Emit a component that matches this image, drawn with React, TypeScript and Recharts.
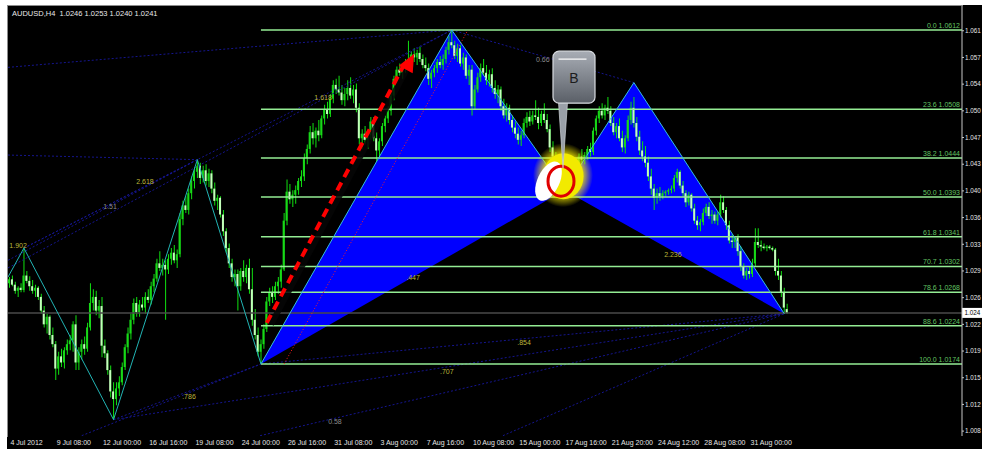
import React from "react";
import {
  ComposedChart,
  Bar,
  Cell,
  Line,
  Area,
  XAxis,
  YAxis,
  ReferenceLine,
  ReferenceDot,
} from "recharts";

// AUDUSD H4 candles, [open, high, low, close] in pips above 1.0000
const ohlc = [
  [280, 288, 274, 285], [285, 290, 276, 278], [278, 282, 266, 270], [270, 276, 262, 274], [274, 280, 268, 271],
  [271, 326, 268, 290], [290, 296, 280, 283], [283, 289, 270, 276], [276, 284, 266, 270], [270, 278, 262, 274],
  [274, 276, 258, 262], [262, 266, 240, 244], [244, 250, 222, 226], [226, 240, 214, 236], [236, 238, 206, 212],
  [212, 222, 196, 200], [200, 204, 153, 168], [168, 190, 160, 184], [184, 194, 170, 176], [176, 196, 168, 192],
  [192, 206, 186, 200], [200, 212, 192, 205], [205, 230, 190, 226], [226, 238, 166, 176], [176, 196, 166, 190],
  [190, 206, 180, 200], [200, 210, 186, 194], [194, 228, 190, 222], [222, 280, 218, 254], [254, 272, 244, 262],
  [262, 270, 238, 244], [244, 258, 234, 250], [250, 262, 183, 198], [198, 206, 182, 188], [188, 192, 160, 166],
  [166, 172, 130, 138], [138, 150, 101, 128], [128, 150, 120, 142], [142, 158, 132, 150], [150, 176, 146, 170],
  [170, 200, 166, 196], [196, 222, 188, 214], [214, 240, 206, 232], [232, 260, 226, 254], [254, 262, 236, 242],
  [242, 258, 236, 252], [252, 262, 244, 248], [248, 268, 240, 262], [262, 272, 254, 258], [258, 282, 252, 276],
  [276, 292, 268, 286], [286, 312, 282, 306], [306, 322, 296, 300], [300, 312, 290, 304], [304, 310, 232, 298],
  [298, 318, 292, 312], [312, 326, 304, 320], [320, 330, 306, 310], [310, 324, 300, 318], [318, 372, 314, 364],
  [364, 388, 356, 382], [382, 394, 372, 376], [376, 404, 370, 398], [398, 420, 390, 414], [414, 432, 404, 426],
  [426, 442, 418, 434], [434, 438, 410, 418], [418, 434, 412, 428], [428, 436, 408, 414], [414, 430, 406, 424],
  [424, 428, 398, 404], [404, 412, 382, 388], [388, 396, 376, 392], [392, 394, 366, 370], [370, 376, 342, 348],
  [348, 352, 320, 326], [326, 332, 300, 306], [306, 312, 282, 288], [288, 298, 276, 292], [292, 298, 244, 276],
  [276, 300, 270, 296], [296, 310, 282, 288], [288, 304, 280, 300], [300, 312, 266, 272], [272, 300, 224, 232],
  [232, 246, 206, 212], [212, 222, 184, 190], [190, 206, 174, 200], [200, 226, 194, 220], [220, 262, 216, 256],
  [256, 274, 250, 268], [268, 276, 254, 262], [262, 282, 258, 276], [276, 288, 266, 282], [282, 304, 274, 298],
  [298, 372, 296, 362], [362, 416, 356, 400], [400, 410, 384, 390], [390, 402, 380, 396], [396, 408, 384, 402],
  [402, 418, 396, 414], [414, 428, 406, 420], [420, 450, 414, 444], [444, 462, 436, 456], [456, 486, 450, 478],
  [478, 490, 462, 470], [470, 484, 458, 480], [480, 494, 466, 474], [474, 500, 470, 496], [496, 514, 488, 508],
  [508, 518, 496, 502], [502, 528, 498, 522], [522, 546, 516, 540], [540, 548, 528, 534], [534, 552, 526, 530],
  [530, 540, 514, 520], [520, 536, 512, 528], [528, 546, 520, 536], [536, 550, 522, 526], [526, 540, 516, 534],
  [534, 542, 504, 510], [510, 516, 462, 470], [470, 482, 456, 476], [476, 486, 462, 468], [468, 480, 456, 474],
  [474, 498, 468, 492], [492, 498, 466, 470], [470, 478, 440, 454], [454, 470, 446, 466], [466, 490, 460, 486],
  [486, 500, 478, 496], [496, 512, 490, 506], [506, 530, 500, 526], [526, 552, 520, 548], [548, 564, 542, 560],
  [560, 568, 552, 556], [556, 566, 548, 562], [562, 574, 556, 570], [570, 598, 564, 574], [574, 584, 564, 580],
  [580, 588, 570, 576], [576, 586, 566, 582], [582, 590, 570, 574], [574, 580, 562, 566], [566, 576, 558, 562],
  [562, 568, 540, 548], [548, 560, 536, 556], [556, 566, 550, 562], [562, 574, 556, 570], [570, 578, 562, 566],
  [566, 580, 560, 574], [574, 590, 568, 586], [586, 604, 580, 596], [596, 612, 588, 592], [592, 598, 574, 578],
  [578, 594, 570, 588], [588, 592, 564, 568], [568, 582, 560, 576], [576, 580, 548, 552], [552, 566, 540, 560],
  [560, 566, 500, 512], [512, 540, 508, 534], [534, 556, 530, 550], [550, 568, 544, 562], [562, 574, 552, 556],
  [556, 566, 540, 546], [546, 560, 538, 554], [554, 562, 530, 536], [536, 546, 522, 528], [528, 540, 516, 534],
  [534, 538, 506, 512], [512, 522, 496, 500], [500, 516, 492, 510], [510, 514, 488, 494], [494, 500, 478, 484],
  [484, 492, 470, 476], [476, 484, 462, 468], [468, 480, 460, 474], [474, 496, 470, 490], [490, 504, 484, 498],
  [498, 506, 486, 492], [492, 506, 488, 500], [500, 520, 494, 498], [498, 510, 482, 490], [490, 506, 486, 502],
  [502, 516, 490, 494], [494, 502, 478, 482], [482, 488, 452, 458], [458, 466, 440, 446], [446, 452, 426, 432],
  [432, 440, 414, 420], [420, 428, 406, 414], [414, 424, 402, 410], [410, 432, 406, 428], [428, 438, 420, 426],
  [426, 440, 418, 436], [436, 444, 426, 432], [432, 450, 428, 446], [446, 456, 438, 442], [442, 452, 436, 448],
  [448, 460, 442, 456], [456, 464, 446, 452], [452, 484, 448, 480], [480, 500, 474, 496], [496, 512, 490, 506],
  [506, 516, 496, 500], [500, 514, 494, 510], [510, 524, 502, 506], [506, 512, 486, 490], [490, 498, 474, 478],
  [478, 490, 470, 486], [486, 496, 466, 470], [470, 480, 452, 458], [458, 474, 450, 470], [470, 500, 466, 494],
  [494, 518, 488, 510], [510, 524, 484, 490], [490, 498, 466, 472], [472, 480, 448, 454], [454, 466, 440, 446],
  [446, 460, 432, 438], [438, 446, 414, 420], [420, 430, 396, 404], [404, 410, 376, 392], [392, 404, 384, 398],
  [398, 406, 388, 394], [394, 402, 390, 398], [398, 402, 394, 400], [400, 404, 396, 402], [402, 408, 398, 404],
  [404, 422, 400, 418], [418, 430, 412, 426], [426, 428, 404, 408], [408, 414, 394, 398], [398, 402, 380, 386],
  [386, 400, 382, 396], [396, 398, 374, 378], [378, 384, 358, 362], [362, 368, 350, 356], [356, 364, 348, 360],
  [360, 378, 356, 372], [372, 384, 368, 380], [380, 386, 364, 368], [368, 376, 358, 370], [370, 374, 358, 362],
  [362, 374, 356, 370], [370, 396, 366, 386], [386, 394, 372, 376], [376, 380, 350, 356], [356, 362, 332, 336],
  [336, 344, 326, 334], [334, 342, 326, 340], [340, 344, 316, 322], [322, 328, 296, 302], [302, 306, 286, 290],
  [290, 300, 284, 296], [296, 302, 286, 292], [292, 312, 288, 306], [306, 352, 302, 334], [334, 352, 326, 330],
  [330, 336, 322, 328], [328, 332, 324, 326], [326, 330, 322, 328], [328, 330, 324, 326], [326, 328, 322, 324],
  [324, 326, 290, 296], [296, 312, 284, 290], [290, 296, 262, 268], [268, 274, 240, 248], [246, 253, 240, 241],
];

const slots = 330;

const timeTicks = [0, 16, 32, 48, 64, 80, 96, 112, 128, 144, 160, 176, 192, 208, 224, 240, 256];
const timeLabels = [
  "4 Jul 2012", "9 Jul 08:00", "12 Jul 00:00", "16 Jul 16:00", "19 Jul 08:00", "24 Jul 00:00",
  "26 Jul 16:00", "31 Jul 08:00", "3 Aug 00:00", "7 Aug 16:00", "10 Aug 08:00", "15 Aug 00:00",
  "17 Aug 16:00", "21 Aug 20:00", "24 Aug 12:00", "28 Aug 08:00", "31 Aug 00:00",
];

const priceTicks = [
  1.0086, 1.0121, 1.0156, 1.0191, 1.0226, 1.0261, 1.0296, 1.0331,
  1.0366, 1.0401, 1.0436, 1.0471, 1.0506, 1.0541, 1.0576, 1.0611,
];
const priceLabels = [
  "1.008", "1.012", "1.015", "1.019", "1.022", "1.026", "1.029", "1.033",
  "1.036", "1.040", "1.043", "1.047", "1.050", "1.054", "1.057", "1.061",
];

// swing zigzag before the pattern (bar index, pips)
const zigzagIdx = [-0.5, 5, 36, 65, 87];
const zigzagPips = [288, 326, 101, 442, 174];

// X A B C D
const patternIdx = [87, 153, 192, 216, 268];
const patternPips = [174, 612, 402, 543, 240];

const fibStart = 87;
const fibLevels = ["0.0", "23.6", "38.2", "50.0", "61.8", "70.7", "78.6", "88.6", "100.0"];
const fibPrices = [1.0612, 1.0508, 1.0444, 1.0393, 1.0341, 1.0302, 1.0268, 1.0224, 1.0174];

const lastPrice = 1.0241;

// dotted ratio lines: [idx1, pips1, idx2, pips2]
const guides = [
  [-0.5, 563, 153, 612],
  [5, 326, 153, 612],
  [-0.5, 300, 153, 612],
  [-0.5, 448, 65, 442],
  [5, 326, 65, 442],
  [-0.5, 310, 65, 442],
  [36, 101, 87, 174],
  [25, 80, 87, 174],
  [87, 174, 268, 240],
  [36, 101, 268, 240],
  [86.7, 80, 268, 240],
  [170.7, 80, 268, 240],
  [153, 612, 216, 543],
];

const ratioText = ["1.902", "2.618", "1.51", "1.618", ".786", ".447", ".707", ".854", "2.236", "0.66", "0.58"];
const ratioIdx = [3, 46.9, 34.8, 108.5, 62.1, 139.6, 151.3, 178, 229.5, 184.5, 112.6];
const ratioPips = [330, 413, 380, 523, 131, 288, 164, 202, 318, 573, 98];
const ratioGray = [false, false, true, false, false, false, false, false, false, true, true];

const font = "'Liberation Sans', Arial, sans-serif";
const pr = (p: number) => 1 + p / 10000;
const yMax = 1.064347;
const yMin = 1.007958;

const rows = Array.from({ length: slots }, (_, i) => {
  const k = ohlc[i];
  if (!k) return { i };
  const [o, h, l, c] = k.map(pr);
  return { i, wick: [l, h], body: [Math.min(o, c), Math.max(o, c)], up: c >= o };
});

const pts = patternIdx.map((x, k) => [x, patternPips[k]]);
const [pX, pA, pB, pC, pD] = pts;
const onLine = (a: number[], b: number[], x: number) => a[1] + ((b[1] - a[1]) * (x - a[0])) / (b[0] - a[0]);

const tri1 = [
  { x: pX[0], r: [pr(pX[1]), pr(pX[1])] },
  { x: pA[0], r: [pr(onLine(pX, pB, pA[0])), pr(pA[1])] },
  { x: pB[0], r: [pr(pB[1]), pr(pB[1])] },
];
const tri2 = [
  { x: pB[0], r: [pr(pB[1]), pr(pB[1])] },
  { x: pC[0], r: [pr(onLine(pB, pD, pC[0])), pr(pC[1])] },
  { x: pD[0], r: [pr(pD[1]), pr(pD[1])] },
];
const zigzag = zigzagIdx.map((x, k) => ({ x, y: pr(zigzagPips[k]) }));
const edges = pts.map(([x, p]) => ({ x, y: pr(p) }));

const TimeTick = (props: any) => {
  const k = timeTicks.indexOf(props.payload.value);
  return (
    <text x={props.x + 1} y={445} fill="#e6e6e6" fontSize={7} fontFamily={font}>
      {timeLabels[k]}
    </text>
  );
};

const ArrowHead = (p: any) => (
  <polygon
    points={`${p.cx},${p.cy} ${p.cx - 15.5},${p.cy + 12} ${p.cx - 1.5},${p.cy + 19.5}`}
    fill="#ff0000"
  />
);

const BMarker = (p: any) => {
  const { cx, cy } = p;
  return (
    <g>
      <defs>
        <linearGradient id="calloutFill" x1="0" y1="0" x2="0" y2="1">
          <stop offset="0" stopColor="#a8adb5" />
          <stop offset="1" stopColor="#5a5f67" />
        </linearGradient>
        <radialGradient id="glowFill">
          <stop offset="0.55" stopColor="#fff200" />
          <stop offset="1" stopColor="#fff200" stopOpacity="0" />
        </radialGradient>
      </defs>
      <ellipse cx={cx - 1.5} cy={cy - 15} rx={30} ry={32} fill="url(#glowFill)" />
      <ellipse cx={cx - 1} cy={cy - 14} rx={20} ry={23} fill="#f2ea00" />
      <ellipse
        cx={cx - 16}
        cy={cy - 9}
        rx={11}
        ry={21}
        fill="#ffffff"
        transform={`rotate(25 ${cx - 16} ${cy - 9})`}
      />
      <ellipse cx={cx - 3.5} cy={cy - 9} rx={13} ry={15} fill="none" stroke="#e00000" strokeWidth={3} />
      <polygon
        points={`${cx - 6},${cy - 88} ${cx + 3},${cy - 88} ${cx - 1.5},${cy - 22}`}
        fill="#9aa0a8"
        stroke="#cfd3d8"
        strokeWidth={0.7}
      />
      <rect
        x={cx - 11.5}
        y={cy - 139}
        width={42}
        height={52}
        rx={6}
        fill="url(#calloutFill)"
        stroke="#d8dbe0"
        strokeWidth={1.2}
      />
      <path
        d={`M ${cx - 6} ${cy - 131} L ${cx + 22} ${cy - 131}`}
        stroke="#ffffff"
        strokeWidth={1.5}
        opacity={0.8}
      />
      <text x={cx + 9.5} y={cy - 107} textAnchor="middle" fontSize={14} fontFamily={font} fill="#1c1c1c">
        B
      </text>
    </g>
  );
};

export default function App() {
  return (
    <div style={{ position: "absolute", left: 0, top: 0, width: 982, height: 449, background: "#fff", overflow: "hidden" }}>
      <div style={{ position: "absolute", left: 7, top: 5, width: 975, height: 444, background: "#000" }} />
      <div
        style={{
          position: "absolute",
          left: 7,
          top: 5,
          width: 955,
          height: 431,
          borderLeft: "1px solid #8c8c8c",
          borderTop: "1px solid #8c8c8c",
        }}
      />
      <div style={{ position: "absolute", left: 0, top: 0 }}>
        <ComposedChart width={982} height={449} data={rows} margin={{ top: 6, right: 0, bottom: 0, left: 8 }}>
          <XAxis xAxisId="c" dataKey="i" type="category" hide />
          <XAxis xAxisId="b" dataKey="i" type="category" hide />
          <XAxis
            xAxisId="n"
            dataKey="x"
            type="number"
            domain={[-0.5, slots - 0.5]}
            allowDataOverflow
            ticks={timeTicks}
            interval={0}
            height={13}
            tickSize={3}
            axisLine={{ stroke: "#c8c8c8" }}
            tickLine={{ stroke: "#c8c8c8" }}
            tick={TimeTick}
          />
          <YAxis
            orientation="right"
            type="number"
            width={20}
            domain={[yMin, yMax]}
            allowDataOverflow
            ticks={priceTicks}
            interval={0}
            tickSize={2}
            tickMargin={1}
            tickFormatter={(v: number) => priceLabels[priceTicks.indexOf(v)]}
            tick={{ fill: "#e6e6e6", fontSize: 6.3, fontFamily: font }}
            axisLine={{ stroke: "#c8c8c8" }}
            tickLine={{ stroke: "#c8c8c8" }}
          />

          <Area
            xAxisId="n"
            data={tri1}
            dataKey="r"
            type="linear"
            stroke="none"
            fill="#0000ff"
            fillOpacity={1}
            isAnimationActive={false}
          />
          <Area
            xAxisId="n"
            data={tri2}
            dataKey="r"
            type="linear"
            stroke="none"
            fill="#0000ff"
            fillOpacity={1}
            isAnimationActive={false}
          />

          {guides.map((g, k) => (
            <ReferenceLine
              key={"g" + k}
              xAxisId="n"
              segment={[
                { x: g[0], y: pr(g[1]) },
                { x: g[2], y: pr(g[3]) },
              ]}
              stroke="#15158f"
              strokeDasharray="2 2"
              ifOverflow="hidden"
            />
          ))}

          <ReferenceLine xAxisId="n" y={lastPrice} stroke="#4a4a4a" strokeWidth={1.5} label={(p: any) => (
            <g>
              <rect x={962} y={p.viewBox.y - 5} width={20} height={10} fill="#ffffff" />
              <text x={964.5} y={p.viewBox.y + 2.5} fontSize={6.3} fontFamily={font} fill="#000">
                1.024
              </text>
            </g>
          )} />

          <Bar xAxisId="c" dataKey="wick" barSize={1} isAnimationActive={false}>
            {rows.map((r: any, k) => (
              <Cell key={k} fill="#10e010" />
            ))}
          </Bar>
          <Bar xAxisId="b" dataKey="body" barSize={2} isAnimationActive={false}>
            {rows.map((r: any, k) => (
              <Cell key={k} fill={r.up ? "#18d818" : "#c4ffbc"} />
            ))}
          </Bar>

          {fibPrices.map((v, k) => (
            <ReferenceLine
              key={"f" + k}
              xAxisId="n"
              segment={[
                { x: fibStart, y: v },
                { x: slots - 0.5, y: v },
              ]}
              stroke="#94ec94"
              strokeWidth={1.5}
              label={(p: any) => (
                <text
                  x={p.viewBox.x + p.viewBox.width - 2}
                  y={p.viewBox.y - 2}
                  textAnchor="end"
                  fontSize={7}
                  fontFamily={font}
                  fill="#62c462"
                >
                  {fibLevels[k] + "  " + v.toFixed(4)}
                </text>
              )}
            />
          ))}

          <ReferenceLine
            xAxisId="n"
            segment={[
              { x: 95, y: pr(174) },
              { x: 158.6, y: pr(612) },
            ]}
            stroke="#ff2020"
            strokeDasharray="1 2"
          />

          <Line
            xAxisId="n"
            data={zigzag}
            dataKey="y"
            type="linear"
            stroke="#22b4b4"
            strokeWidth={1}
            dot={false}
            isAnimationActive={false}
          />
          <Line
            xAxisId="n"
            data={edges}
            dataKey="y"
            type="linear"
            stroke="#34bde0"
            strokeWidth={1}
            dot={false}
            isAnimationActive={false}
          />

          <ReferenceLine
            xAxisId="n"
            segment={[
              { x: 90.5, y: pr(226) },
              { x: 137.5, y: pr(561) },
            ]}
            stroke="#060606"
            strokeWidth={6}
            strokeOpacity={0.85}
          />
          <ReferenceLine
            xAxisId="n"
            segment={[
              { x: 89, y: pr(228) },
              { x: 136, y: pr(563) },
            ]}
            stroke="#ff0000"
            strokeWidth={4}
            strokeDasharray="9 6"
          />
          <ReferenceDot xAxisId="n" x={140} y={pr(581)} r={0} shape={ArrowHead} />

          {ratioText.map((t, k) => (
            <ReferenceDot
              key={"r" + k}
              xAxisId="n"
              x={ratioIdx[k]}
              y={pr(ratioPips[k])}
              r={0}
              shape={(p: any) => (
                <text
                  x={p.cx}
                  y={p.cy + 2.5}
                  textAnchor="middle"
                  fontSize={7}
                  fontFamily={font}
                  fill={ratioGray[k] ? "#8c8c8c" : "#bdb53a"}
                >
                  {t}
                </text>
              )}
            />
          ))}

          <ReferenceDot xAxisId="n" x={pB[0]} y={pr(pB[1])} r={0} shape={BMarker} />
        </ComposedChart>
      </div>
      <div
        style={{
          position: "absolute",
          left: 12,
          top: 9,
          color: "#e8e8e8",
          fontSize: 7.5,
          fontFamily: font,
          whiteSpace: "pre",
          lineHeight: "9px",
        }}
      >
        {"AUDUSD,H4  1.0246 1.0253 1.0240 1.0241"}
      </div>
    </div>
  );
}
